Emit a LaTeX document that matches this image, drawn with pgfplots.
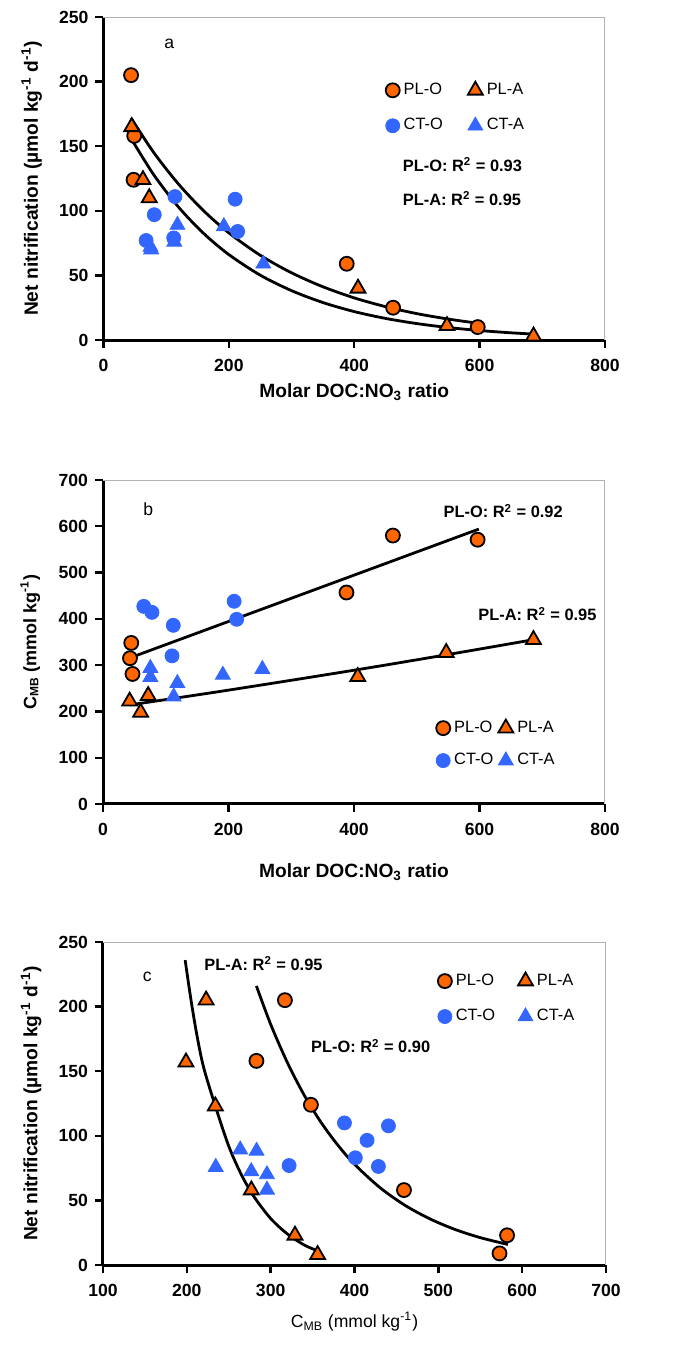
\documentclass[border=0pt]{standalone}
\usepackage{fontspec}
\setmainfont{Liberation Sans}
\usepackage{pgfplots}
\pgfplotsset{compat=1.18}
\definecolor{plorange}{RGB}{255,102,0}
\definecolor{ctblue}{RGB}{51,102,255}
\newcommand\fs{\fontsize{8.8}{10.5}\selectfont}
\newcommand\fb{\fontsize{9.6}{11.5}\selectfont\bfseries}
\newcommand\fl{\fontsize{8.2}{10}\selectfont}
\newcommand\fr{\fontsize{8.2}{10}\selectfont\bfseries}

\tikzset{rsq/.style={font=\fr, anchor=west, inner sep=0pt}}

\pgfplotsset{
  panel/.style={
    scale only axis,
    anchor=north west,
    axis lines*=left,
    axis line style={line width=1.5pt,-},
    tick align=outside,
    major tick length=4pt,
    tick style={line width=1.2pt,black},
    tick label style={font=\fs\bfseries},
    xticklabel style={yshift=-2pt},
    /pgf/number format/assume math mode=true,
    label style={font=\fb},
    clip=false,
    legend columns=2,
    legend cell align=left,
    legend style={draw=none, fill=none, font=\fl, inner sep=0pt, anchor=north west,
      row sep=6.5pt},
    extra description/.code={\draw[gray!60, line width=0.5pt] (0,1) -- (1,1) -- (1,0);},
  },
  mk/.style={only marks, legend image code/.code={\draw[##1] plot coordinates {(0pt,0pt)};}},
  plo/.style={mk, mark=*, mark size=3.5pt, mark options={fill=plorange, draw=black, line width=0.9pt}},
  pla/.style={mk, mark=triangle*, mark size=4.3pt, mark options={fill=plorange, draw=black, line width=0.9pt}},
  cto/.style={mk, mark=*, mark size=3.5pt, mark options={fill=ctblue, draw=ctblue}},
  cta/.style={mk, mark=triangle*, mark size=4.3pt, mark options={fill=ctblue, draw=ctblue}},
  trend/.style={black, line width=1.4pt, no marks, smooth, forget plot},
}

\begin{document}
\begin{tikzpicture}
\useasboundingbox (0,0) rectangle (341pt,-675pt);

% ---- panel a ----
\begin{axis}[panel, at={(51.75pt,-8.5pt)}, width=250.75pt, height=161.5pt,
  xmin=0, xmax=800, ymin=0, ymax=250, xtick={0,200,...,800}, ytick={0,50,...,250},
  xlabel={Molar DOC:NO\textsubscript{3} ratio},
  ylabel={Net nitrification (µmol kg\textsuperscript{-1} d\textsuperscript{-1})},
  xlabel style={at={(axis description cs:0.5,-0.162)}, anchor=center},
  ylabel style={at={(axis description cs:-0.143,0.5)}, anchor=center},
  legend style={at={(axis description cs:0.562,0.809)},
    /tikz/every even column/.append style={column sep=10.5pt}},
]
\addplot[plo] coordinates {(44,205) (49,158) (48,124) (388,59) (462,25) (597,10)};
\addplot[pla] coordinates {(45,165) (63,124) (73,110) (406,40) (548,11) (686,3)};
\addplot[cto] coordinates {(68,77) (81,97) (114,111) (112,79) (210,109) (214,84)};
\addplot[cta] coordinates {(75,72) (76,70) (118,89) (113,76) (192,88) (255,59)};
\legend{PL-O,PL-A,CT-O,CT-A}
% fitted curves
\addplot[trend] coordinates {(44,171.8) (80,145.2) (120,120.5) (160,99.9) (200,82.9)
  (250,65.6) (300,52.0) (350,41.2) (400,32.6) (450,25.8) (500,20.4) (550,16.2) (597,13.0)};
\addplot[trend] coordinates {(44,156.0) (80,128.0) (120,102.7) (160,82.4) (200,66.1)
  (250,50.2) (300,38.2) (350,29.0) (400,22.0) (450,16.7) (500,12.7) (550,9.65)
  (600,7.33) (650,5.57) (686,4.57)};
\node[font=\fs] at (axis cs:105,229.6) {a};
\node[rsq] at (axis cs:477,136) {PL-O: R\textsuperscript{2} = 0.93};
\node[rsq] at (axis cs:477,109.7) {PL-A: R\textsuperscript{2} = 0.95};
\end{axis}

% ---- panel b ----
\begin{axis}[panel, at={(51.5pt,-240pt)}, width=251pt, height=162pt,
  xmin=0, xmax=800, ymin=0, ymax=700, xtick={0,200,...,800}, ytick={0,100,...,700},
  xlabel={Molar DOC:NO\textsubscript{3} ratio},
  ylabel={C\textsubscript{MB} (mmol kg\textsuperscript{-1})},
  xlabel style={at={(axis description cs:0.5,-0.21)}, anchor=center},
  ylabel style={at={(axis description cs:-0.145,0.5)}, anchor=center,
    font=\fontsize{9}{11}\selectfont\bfseries},
  legend style={at={(axis description cs:0.663,0.27)}, row sep=5pt,
    /tikz/every even column/.append style={column sep=0.5pt}},
]
\addplot[plo] coordinates {(43,315) (47,281) (45,348) (388,457) (462,580) (597,571)};
\addplot[pla] coordinates {(42.5,222) (72,234) (60,198) (406,275) (547,327) (686,355)};
\addplot[cto] coordinates {(65,427) (78,414) (112,386) (110,320) (209,438) (213,399)};
\addplot[cta] coordinates {(75.5,293.5) (75.5,274) (118.5,261) (112.7,232) (191,279) (254,291.4)};
\legend{PL-O,PL-A,CT-O,CT-A}
\addplot[trend] coordinates {(41.5,315) (599,594)};
\addplot[trend] coordinates {(42.5,214) (200,246) (400,289) (550,323) (686,355)};
\node[font=\fs] at (axis cs:72,636.7) {b};
\node[rsq] at (axis cs:542.3,633) {PL-O: R\textsuperscript{2} = 0.92};
\node[rsq] at (axis cs:597.6,410.5) {PL-A: R\textsuperscript{2} = 0.95};
\end{axis}

% ---- panel c ----
\begin{axis}[panel, at={(51.5pt,-471pt)}, width=251.5pt, height=161.5pt,
  xmin=100, xmax=700, ymin=0, ymax=250, xtick={100,200,...,700}, ytick={0,50,...,250},
  xlabel={C\textsubscript{MB} (mmol kg\textsuperscript{-1})},
  ylabel={Net nitrification (µmol kg\textsuperscript{-1} d\textsuperscript{-1})},
  xlabel style={at={(axis description cs:0.5,-0.175)}, anchor=center,
    font=\fontsize{8.8}{10.5}\selectfont},
  ylabel style={at={(axis description cs:-0.143,0.5)}, anchor=center},
  legend style={at={(axis description cs:0.665,0.915)},
    /tikz/every even column/.append style={column sep=9.5pt}},
]
\addplot[plo] coordinates {(317,205) (283,158) (348,124) (459,58) (582,23) (573,9)};
\addplot[pla] coordinates {(223,205) (199,157) (234,123) (277,58) (329,23) (356,8)};
\addplot[cto] coordinates {(388,110) (415,96.5) (440.5,107.7) (401,83) (428.5,76.3) (322,77)};
\addplot[cta] coordinates {(263.7,89.3) (283.2,88.3) (234.5,75.8) (276.8,72.5) (295.6,70.1) (295.6,58.2)};
\legend{PL-O,PL-A,CT-O,CT-A}
\addplot[trend] coordinates {(198,236) (205,205) (212,178) (220,153) (234,123) (250,92)
  (265,70) (280,53) (300,36) (320,24) (340,15.5) (356,11)};
\addplot[trend] coordinates {(283,216) (300,186.3) (320,156.6) (340,131.5) (360,110.5)
  (380,92.9) (400,78.0) (430,60.1) (460,46.3) (490,35.7) (520,27.5) (550,21.2) (583,15.9)};
\node[font=\fs] at (axis cs:152.8,223) {c};
\node[rsq] at (axis cs:220.5,233.5) {PL-A: R\textsuperscript{2} = 0.95};
\node[rsq] at (axis cs:347.8,169.5) {PL-O: R\textsuperscript{2} = 0.90};
\end{axis}
\end{tikzpicture}
\end{document}
